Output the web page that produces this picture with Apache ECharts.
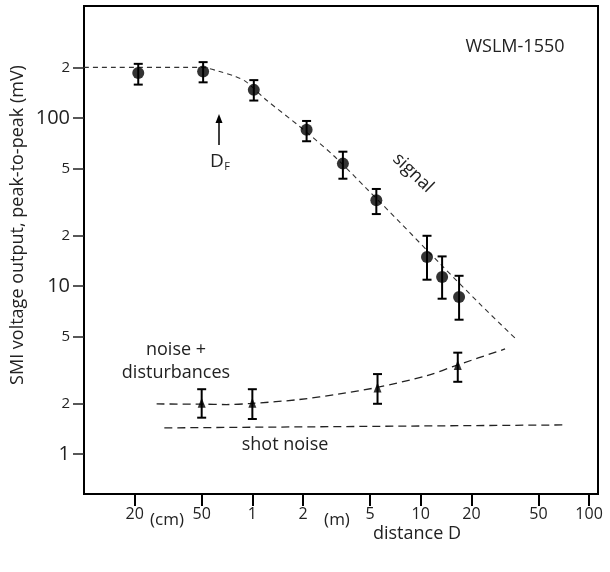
<!DOCTYPE html>
<html>
<head>
<meta charset="utf-8">
<script src="https://cdn.jsdelivr.net/npm/echarts@6/dist/echarts.min.js"></script>
<style>
html, body { margin: 0; padding: 0; background: #fff; }
#chart { width: 610px; height: 572px; }
</style>
</head>
<body>
<div id="chart"></div>
<script>
// distance D in metres, SMI output in mV (peak-to-peak)
var signalX = [0.21, 0.51, 1.02, 2.1, 3.45, 5.45, 10.9, 13.4, 16.9];
var signalY = [185, 189, 147, 85, 53.5, 32.4, 14.9, 11.3, 8.6];
var signalLow = [158, 163, 127, 72.7, 43.5, 26.8, 10.9, 8.4, 6.3];
var signalHigh = [210, 215, 168, 96, 63, 37.8, 19.9, 15.0, 11.5];

var noiseX = [0.5, 1.0, 5.54, 16.6];
var noiseY = [2.02, 2.02, 2.49, 3.39];
var noiseLow = [1.645, 1.615, 1.99, 2.69];
var noiseHigh = [2.43, 2.43, 2.99, 4.01];

// dashed guide curves
var signalFitX = [0.1, 0.5, 0.64, 0.8, 0.92, 1.21, 1.91, 3.02, 4.77, 7.5, 13, 22.5, 36.3];
var signalFitY = [200, 200, 189, 176, 164, 128, 89, 60, 38, 24, 13.6, 7.8, 4.9];
var noiseFitX = [0.27, 0.5, 0.7, 1.0, 1.9, 3.3, 5.5, 10.8, 16.6, 31.7];
var noiseFitY = [1.985, 1.98, 1.97, 2.0, 2.11, 2.28, 2.49, 2.92, 3.39, 4.22];
var shotX = [0.3, 73];
var shotY = [1.43, 1.49];

var xTicks = [0.2, 0.5, 1, 2, 5, 10, 20, 50, 100];
var yTicks = [1, 2, 5, 10, 20, 50, 100, 200];

function pairs(xs, ys) {
    return xs.map(function (x, i) { return [x, ys[i]]; });
}
function triples(xs, lo, hi) {
    return xs.map(function (x, i) { return [x, lo[i], hi[i]]; });
}

function renderErr(params, api) {
    var x = api.value(0);
    var lo = api.coord([x, api.value(1)]);
    var hi = api.coord([x, api.value(2)]);
    var w = 4.5;
    var st = { stroke: '#000', lineWidth: 2 };
    return {
        type: 'group',
        children: [
            { type: 'line', shape: { x1: lo[0], y1: lo[1], x2: hi[0], y2: hi[1] }, style: st },
            { type: 'line', shape: { x1: lo[0] - w, y1: lo[1], x2: lo[0] + w, y2: lo[1] }, style: st },
            { type: 'line', shape: { x1: hi[0] - w, y1: hi[1], x2: hi[0] + w, y2: hi[1] }, style: st }
        ]
    };
}

var txtColor = '#222';
var font = 'Open Sans';

function txt(x, y, text, size, extra) {
    var el = {
        type: 'text', x: x, y: y,
        style: { text: text, fill: txtColor, font: size + 'px "Open Sans"', align: 'center', verticalAlign: 'middle' }
    };
    if (extra) for (var k in extra) el[k] = extra[k];
    return el;
}

var chartDom = document.getElementById('chart');
var myChart = echarts.init(chartDom);

var option = {
    animation: false,
    textStyle: { fontFamily: font },
    grid: {
        left: 84, right: 12, top: 6, bottom: 78,
        show: true, borderColor: '#000', borderWidth: 2,
        containLabel: false, outerBoundsMode: 'none'
    },
    xAxis: {
        type: 'log',
        min: 0.1,
        max: 113,
        axisLine: { show: true, lineStyle: { color: '#000', width: 2 } },
        axisTick: { show: true, customValues: xTicks, length: 12, lineStyle: { color: '#000', width: 2 } },
        axisLabel: {
            customValues: xTicks,
            margin: 12,
            fontSize: 16,
            color: txtColor,
            fontFamily: font,
            formatter: function (v) {
                return v < 1 ? String(Math.round(v * 100)) : String(v);
            }
        },
        splitLine: { show: false },
        minorTick: { show: false }
    },
    yAxis: {
        type: 'log',
        min: 0.578,
        max: 464,
        axisLine: { show: true, lineStyle: { color: '#000', width: 2 } },
        axisTick: { show: true, customValues: yTicks, length: 11, lineStyle: { color: '#222', width: 1.5 } },
        axisLabel: {
            customValues: yTicks,
            margin: 14,
            color: txtColor,
            fontFamily: font,
            formatter: function (v) {
                var lg = Math.log10(v);
                if (Math.abs(lg - Math.round(lg)) < 1e-6) return '{big|' + v + '}';
                return '{sm|' + String(v).charAt(0) + '}';
            },
            rich: {
                big: { fontSize: 20, color: txtColor, fontFamily: font },
                sm: { fontSize: 15, color: txtColor, fontFamily: font }
            }
        },
        splitLine: { show: false },
        minorTick: { show: false }
    },
    series: [
        {
            name: 'signal fit',
            type: 'line',
            data: pairs(signalFitX, signalFitY),
            showSymbol: false,
            smooth: 0.3,
            lineStyle: { color: '#333', width: 1.1, type: [5, 4] },
            z: 1
        },
        {
            name: 'noise fit',
            type: 'line',
            data: pairs(noiseFitX, noiseFitY),
            showSymbol: false,
            smooth: 0.3,
            lineStyle: { color: '#222', width: 1.3, type: [8, 5] },
            z: 1
        },
        {
            name: 'shot noise',
            type: 'line',
            data: pairs(shotX, shotY),
            showSymbol: false,
            lineStyle: { color: '#222', width: 1.3, type: [8, 5] },
            z: 1
        },
        {
            name: 'signal err',
            type: 'custom',
            renderItem: renderErr,
            encode: { x: 0, y: [1, 2] },
            data: triples(signalX, signalLow, signalHigh),
            z: 2
        },
        {
            name: 'noise err',
            type: 'custom',
            renderItem: renderErr,
            encode: { x: 0, y: [1, 2] },
            data: triples(noiseX, noiseLow, noiseHigh),
            z: 2
        },
        {
            name: 'signal',
            type: 'scatter',
            data: pairs(signalX, signalY),
            symbol: 'circle',
            symbolSize: 12,
            itemStyle: { color: '#000' },
            z: 3
        },
        {
            name: 'noise + disturbances',
            type: 'scatter',
            data: pairs(noiseX, noiseY),
            symbol: 'triangle',
            symbolSize: [8, 10],
            itemStyle: { color: '#000' },
            z: 3
        }
    ],
    graphic: [
        txt(515, 47, 'WSLM-1550', 18),
        { type: 'line', shape: { x1: 219, y1: 145, x2: 219, y2: 121 }, style: { stroke: '#000', lineWidth: 1.5 } },
        { type: 'polygon', shape: { points: [[219, 114], [215.5, 123], [222.5, 123]] }, style: { fill: '#000' } },
        txt(217, 162, 'D', 19),
        txt(227, 167, 'F', 11),
        txt(413, 173, 'signal', 18, { rotation: -0.76 }),
        txt(176, 350, 'noise +', 18),
        txt(176, 373, 'disturbances', 18),
        txt(285, 445, 'shot noise', 18),
        txt(167, 520, '(cm)', 17),
        txt(337, 520, '(m)', 17),
        txt(417, 534, 'distance D', 18),
        txt(18, 225, 'SMI voltage output, peak-to-peak (mV)', 18, { rotation: Math.PI / 2 })
    ]
};

option && myChart.setOption(option);
new ResizeObserver(() => myChart.resize()).observe(chartDom);
</script>
</body>
</html>
